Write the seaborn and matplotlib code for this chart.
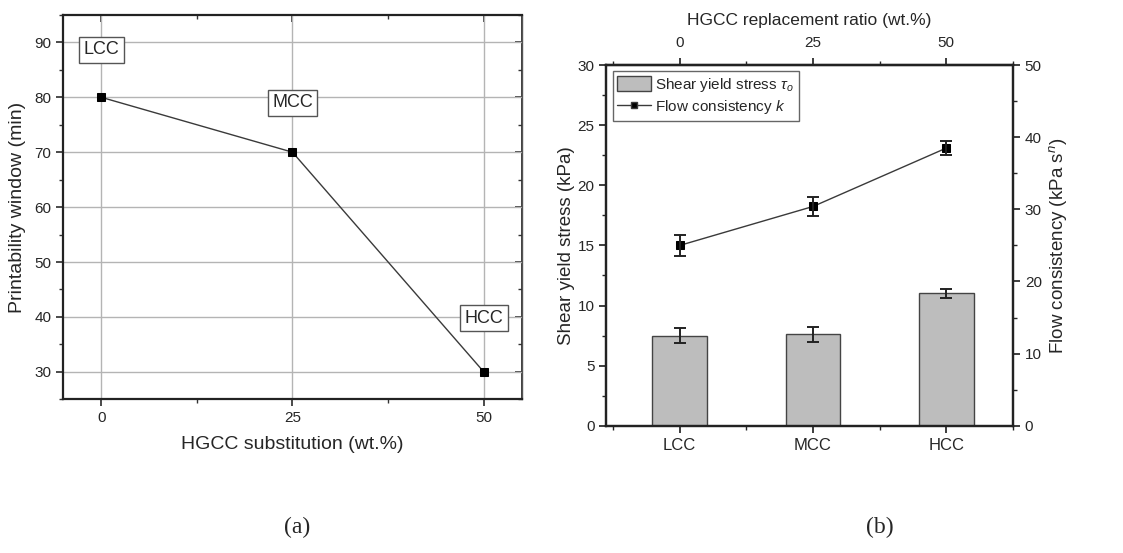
import matplotlib.pyplot as plt
import seaborn as sns
import numpy as np
from matplotlib.ticker import MultipleLocator
from matplotlib.patches import Patch
from matplotlib.lines import Line2D

# (a) printability window
subst = [0, 25, 50]
window = [80, 70, 30]
mix_names = ["LCC", "MCC", "HCC"]
label_y = [88.7, 79, 39.8]

# (b) rheology
ratio = [0, 25, 50]
yield_stress = [7.5, 7.6, 11.0]
yield_err = [0.6, 0.65, 0.4]
flow_k = [25.0, 30.4, 38.5]
flow_err = [1.5, 1.3, 1.0]

sns.set_theme(style="ticks")
plt.rcParams['font.family'] = ['Liberation Sans', 'DejaVu Sans']
plt.rcParams['mathtext.fontset'] = 'custom'
plt.rcParams['mathtext.it'] = 'Liberation Sans:italic'
plt.rcParams['mathtext.rm'] = 'Liberation Sans'

fig = plt.figure(figsize=(11.23, 5.53), dpi=100)
ax1 = fig.add_axes([0.0561, 0.278, 0.4087, 0.695])
ax2 = fig.add_axes([0.540, 0.2302, 0.362, 0.652])

# ---- panel (a)
sns.lineplot(x=subst, y=window, ax=ax1, color="#3a3a3a", lw=1.0, marker="s",
             markersize=5.5, markerfacecolor="black", markeredgecolor="black", zorder=3)
ax1.set_xlim(-5, 55)
ax1.set_ylim(25, 95)
ax1.set_xticks(subst)
ax1.set_yticks(range(30, 91, 10))
ax1.xaxis.set_minor_locator(MultipleLocator(12.5))
ax1.yaxis.set_minor_locator(MultipleLocator(5))
ax1.grid(True, which="major", color="#b4b4b4", lw=1.0)
ax1.set_axisbelow(True)
ax1.set_xlabel("HGCC substitution (wt.%)", fontsize=14, labelpad=8)
ax1.set_ylabel("Printability window (min)", fontsize=14, labelpad=6)
ax1.tick_params(axis="both", which="both", labelsize=11, color="#333333", direction="out")
ax1.tick_params(which="major", length=5)
ax1.tick_params(which="minor", length=3)
for s in ax1.spines.values():
    s.set_linewidth(1.6)
    s.set_color("#222222")
ax1.spines["right"].set_color("#555555")
ax1.spines["right"].set_linewidth(1.0)

# mirrored inward ticks on top and right, as in the original
ax1_top = ax1.secondary_xaxis("top")
ax1_top.set_xticks(subst)
ax1_top.xaxis.set_minor_locator(MultipleLocator(12.5))
ax1_top.tick_params(which="both", direction="in", labeltop=False, color="#333333")
ax1_top.tick_params(which="major", length=5)
ax1_top.tick_params(which="minor", length=3)
ax1_right = ax1.secondary_yaxis("right")
ax1_right.set_yticks(range(30, 91, 10))
ax1_right.yaxis.set_minor_locator(MultipleLocator(5))
ax1_right.tick_params(which="both", direction="in", labelright=False, color="#333333")
ax1_right.tick_params(which="major", length=5)
ax1_right.tick_params(which="minor", length=3)

for x, y, name in zip(subst, label_y, mix_names):
    ax1.text(x, y, name, ha="center", va="center", fontsize=13,
             bbox=dict(boxstyle="square,pad=0.25", fc="white", ec="#555555", lw=1.0))

# ---- panel (b)
pos = np.arange(len(mix_names))
sns.barplot(x=pos, y=yield_stress, ax=ax2, native_scale=True, width=0.41,
            color="#bdbdbd", edgecolor="#444444", linewidth=1.0, saturation=1)
ax2.errorbar(pos, yield_stress, yerr=yield_err, fmt="none", ecolor="#222222",
             elinewidth=1.4, capsize=4, capthick=1.4)
ax2.set_xlim(-0.55, 2.5)
ax2.set_ylim(0, 30)
ax2.set_xticks(pos)
ax2.set_xticklabels(mix_names)
ax2.xaxis.set_minor_locator(MultipleLocator(0.5))
ax2.yaxis.set_minor_locator(MultipleLocator(2.5))
ax2.set_ylabel("Shear yield stress (kPa)", fontsize=13.5, labelpad=2)
ax2.tick_params(axis="both", which="both", labelsize=11, direction="out")
ax2.tick_params(axis="x", which="major", labelsize=12)
ax2.tick_params(which="major", length=5)
ax2.tick_params(which="minor", length=3)
ax2.tick_params(axis="x", which="minor", length=3, bottom=True)

ax3 = ax2.twinx()
sns.lineplot(x=pos, y=flow_k, ax=ax3, color="#3a3a3a", lw=1.0, marker="s",
             markersize=5.5, markerfacecolor="black", markeredgecolor="black")
ax3.errorbar(pos, flow_k, yerr=flow_err, fmt="none", ecolor="#222222",
             elinewidth=1.4, capsize=4, capthick=1.4)
ax3.set_ylim(0, 50)
ax3.set_yticks(range(0, 51, 10))
ax3.yaxis.set_minor_locator(MultipleLocator(5))
ax3.set_ylabel("Flow consistency (kPa s$^n$)", fontsize=13.5, labelpad=4)
ax3.tick_params(axis="y", which="both", labelsize=11, direction="out")
ax3.tick_params(which="major", length=5)
ax3.tick_params(which="minor", length=3)

top = ax2.secondary_xaxis("top", functions=(lambda c: c * 25, lambda r: r / 25))
top.set_xticks(ratio)
top.xaxis.set_minor_locator(MultipleLocator(12.5))
top.tick_params(which="both", labelsize=11, direction="out")
top.tick_params(which="major", length=5, pad=6)
top.tick_params(which="minor", length=3)
top.set_xlabel("HGCC replacement ratio (wt.%)", fontsize=12.5, labelpad=8)

for a in (ax2, ax3):
    for s in a.spines.values():
        s.set_linewidth(1.6)
        s.set_color("#222222")
top.spines["top"].set_linewidth(1.6)

handles = [Patch(facecolor="#bdbdbd", edgecolor="#444444", label=r"Shear yield stress $\tau_o$"),
           Line2D([], [], color="#3a3a3a", lw=1.0, marker="s", markersize=5,
                  markerfacecolor="black", label=r"Flow consistency $k$")]
ax3.legend(handles=handles, loc="upper left", fontsize=11, frameon=True, fancybox=False,
           edgecolor="#666666", framealpha=1, borderpad=0.3, handlelength=2.2,
           handleheight=1.1, handletextpad=0.3, labelspacing=0.3, borderaxespad=0.4)

fig.text(0.2645, 0.027, "(a)", fontsize=17, family="Liberation Serif", ha="center", va="bottom")
fig.text(0.7835, 0.027, "(b)", fontsize=17, family="Liberation Serif", ha="center", va="bottom")

plt.savefig("out.png", dpi=100)
plt.close()
